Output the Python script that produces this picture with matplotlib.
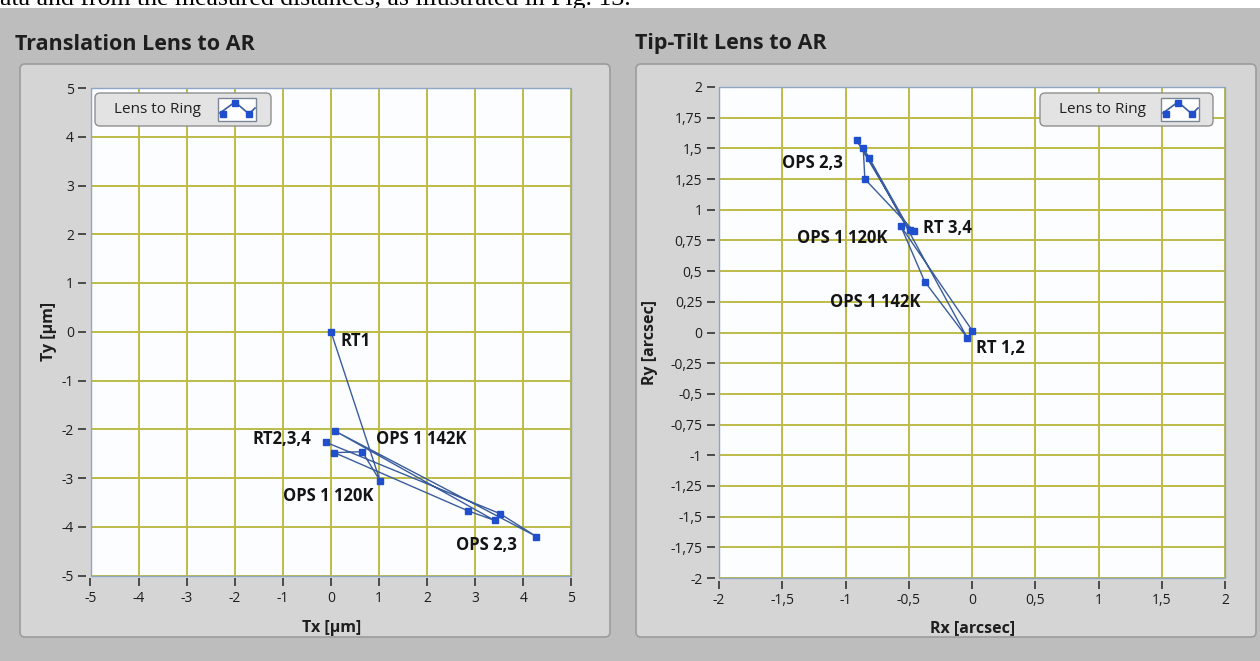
import matplotlib
matplotlib.use("Agg")
import matplotlib.pyplot as plt
from matplotlib.patches import FancyBboxPatch, Rectangle
from matplotlib.lines import Line2D
from matplotlib.ticker import FuncFormatter

# ---- data -----------------------------------------------------------------
# Translation of the lens relative to the ring (µm), in measurement order
tx = [0.00, 1.02, 0.65, 0.07, 2.84, 3.40, 0.09, 4.27, 3.51, -0.10]
ty = [0.00, -3.06, -2.46, -2.48, -3.67, -3.87, -2.04, -4.20, -3.73, -2.27]

# Tip-tilt of the lens relative to the ring (arcsec), same order
rx = [0.003, -0.563, -0.374, -0.036, -0.815, -0.912, -0.492, -0.860, -0.847, -0.460]
ry = [0.014, 0.867, 0.415, -0.046, 1.418, 1.567, 0.835, 1.507, 1.250, 0.827]

trans_labels = ["RT1", "RT2,3,4", "OPS 1 142K", "OPS 1 120K", "OPS 2,3"]
tilt_labels = ["OPS 2,3", "RT 3,4", "OPS 1 120K", "OPS 1 142K", "RT 1,2"]

trans_ticks_x = [-5, -4, -3, -2, -1, 0, 1, 2, 3, 4, 5]
trans_ticks_y = [-5, -4, -3, -2, -1, 0, 1, 2, 3, 4, 5]
tilt_ticks_x = [-2, -1.5, -1, -0.5, 0, 0.5, 1, 1.5, 2]
tilt_ticks_y = [-2, -1.75, -1.5, -1.25, -1, -0.75, -0.5, -0.25, 0,
                0.25, 0.5, 0.75, 1, 1.25, 1.5, 1.75, 2]

legend_text = "Lens to Ring"

# ---- layout / style -------------------------------------------------------
W, H = 1260, 661
DPI = 100
UI_FONT = ["Open Sans", "DejaVu Sans"]

BG_OUTER = "#bdbdbd"
BG_PANEL = "#d5d5d5"
PLOT_BG = "#fcfdff"
GRID = "#bdbb48"
LINE = "#3a5c9c"
MARK = "#1f4fcc"
FRAME = "#8ea6c6"

# text anchors for the point annotations (data coords, alignment)
trans_label_pos = [(0.19, -0.19, "left"), (-0.42, -2.20, "right"),
                   (0.94, -2.20, "left"), (-1.00, -3.37, "left"),
                   (2.60, -4.37, "left")]
tilt_label_pos = [(-1.50, 1.38, "left"), (-0.39, 0.85, "left"),
                  (-1.38, 0.77, "left"), (-1.12, 0.25, "left"),
                  (0.03, -0.13, "left")]

fig = plt.figure(figsize=(W / DPI, H / DPI), dpi=DPI)
fig.patch.set_facecolor("white")
inch = fig.dpi_scale_trans


def px(x, y):
    """Pixel position measured from the top-left corner -> inches."""
    return x / DPI, (H - y) / DPI


def fpx(x, y):
    """Pixel position measured from the top-left corner -> figure fraction."""
    return x / W, (H - y) / H


# caption line of the surrounding document, mostly hidden behind the window
fig.text(*fpx(0, 5), "ata and from the measured distances, as illustrated in Fig. 13.",
         family=["Liberation Serif", "DejaVu Serif"], fontsize=18.5,
         va="baseline", ha="left", zorder=0.5)

# window background
fig.patches.append(Rectangle((0, 0), W / DPI, (H - 8) / DPI, transform=inch,
                             facecolor=BG_OUTER, edgecolor="none", zorder=1))


def panel(x0, y0, x1, y1):
    a, b = px(x0, y1)
    fig.patches.append(FancyBboxPatch(
        (a, b), (x1 - x0) / DPI, (y1 - y0) / DPI,
        boxstyle="round,pad=0,rounding_size=0.05", transform=inch,
        facecolor=BG_PANEL, edgecolor="#9c9c9c", linewidth=1.2, zorder=2))


panel(20, 64, 610, 637)
panel(636, 64, 1256, 637)

fig.text(*fpx(15, 44), "Translation Lens to AR",
         family=UI_FONT, fontsize=15.5, fontweight="bold", color="#1e1e1e",
         va="center", ha="left", zorder=3)
fig.text(*fpx(635, 44), "Tip-Tilt Lens to AR",
         family=UI_FONT, fontsize=15.5, fontweight="bold", color="#1e1e1e",
         va="center", ha="left", zorder=3)


def make_axes(x0, y0, x1, y1):
    ax = fig.add_axes([x0 / W, (H - y1) / H, (x1 - x0) / W, (y1 - y0) / H])
    ax.set_zorder(5)
    ax.set_facecolor(PLOT_BG)
    for s in ax.spines.values():
        s.set_visible(False)
    ax.spines["left"].set_position(("outward", 3))
    ax.spines["bottom"].set_position(("outward", 2))
    ax.add_patch(Rectangle((0, 0), 1, 1, transform=ax.transAxes, fill=False,
                           edgecolor=FRAME, linewidth=1.0, clip_on=False, zorder=6))
    ax.tick_params(direction="out", length=6, width=1.3, color="#404040",
                   labelsize=10, labelcolor="#1e1e1e", pad=3)
    ax.grid(True, color=GRID, linewidth=1.4)
    ax.set_axisbelow(True)
    return ax


def comma_fmt(v, _pos):
    return f"{v:g}".replace(".", ",")


def finish_ticks(ax, xt, yt):
    ax.set_xticks(xt)
    ax.set_yticks(yt)
    ax.xaxis.set_major_formatter(FuncFormatter(comma_fmt))
    ax.yaxis.set_major_formatter(FuncFormatter(comma_fmt))
    for lab in ax.get_xticklabels() + ax.get_yticklabels():
        lab.set_family(UI_FONT)


def draw_series(ax, xs, ys):
    ax.plot(xs, ys, color=LINE, linewidth=1.0, zorder=3)
    ax.plot(xs, ys, linestyle="none", marker="s", markersize=4.5,
            markerfacecolor=MARK, markeredgecolor=MARK, zorder=4)


def label_points(ax, texts, anchors):
    for t, (x, y, ha) in zip(texts, anchors):
        ax.text(x, y, t, ha=ha, va="center", family=UI_FONT, fontsize=12,
                fontweight="bold", color="#141414", zorder=5)


def axis_titles(ax, xl, yl, xc, yc):
    kw = dict(family=UI_FONT, fontsize=11.5, fontweight="bold", color="#1e1e1e")
    ax.set_xlabel(xl, **kw)
    ax.set_ylabel(yl, **kw)
    ax.xaxis.set_label_coords(*xc)
    ax.yaxis.set_label_coords(*yc)


def legend_button(x0, y0, x1, y1, icon_x0):
    a, b = px(x0, y1)
    fig.patches.append(FancyBboxPatch(
        (a, b), (x1 - x0) / DPI, (y1 - y0) / DPI,
        boxstyle="round,pad=0,rounding_size=0.05", transform=inch,
        facecolor="#e3e3e3", edgecolor="#8f8f8f", linewidth=1.0, zorder=10))
    fig.text(*fpx(x0 + 19, (y0 + y1) / 2), legend_text, family=UI_FONT,
             fontsize=11, color="#202020", va="center", ha="left", zorder=11)
    ia, ib = px(icon_x0, y1 - 5)
    fig.patches.append(Rectangle((ia, ib), 38 / DPI, (y1 - y0 - 10) / DPI,
                                 transform=inch, facecolor="white",
                                 edgecolor="#7b8796", linewidth=1.0, zorder=11))
    # miniature of the plotted line style
    pts = [(icon_x0 + 2, y1 - 13), (icon_x0 + 17, y1 - 24),
           (icon_x0 + 31, y1 - 12), (icon_x0 + 37, y1 - 18)]
    xs = [px(p[0], p[1])[0] for p in pts]
    ys = [px(p[0], p[1])[1] for p in pts]
    fig.lines.append(Line2D(xs, ys, transform=inch, color=LINE, linewidth=1.2, zorder=12))
    mk = [px(icon_x0 + 5, y1 - 12), px(icon_x0 + 17, y1 - 23), px(icon_x0 + 31, y1 - 12)]
    fig.lines.append(Line2D([m[0] for m in mk], [m[1] for m in mk], transform=inch,
                            linestyle="none", marker="s", markersize=4.5,
                            color=MARK, zorder=13))


# ---- translation panel ----------------------------------------------------
ax1 = make_axes(90.5, 88, 571.5, 575.5)
ax1.set_xlim(-5, 5)
ax1.set_ylim(-5, 5)
finish_ticks(ax1, trans_ticks_x, trans_ticks_y)
draw_series(ax1, tx, ty)
label_points(ax1, trans_labels, trans_label_pos)
axis_titles(ax1, "Tx [µm]", "Ty [µm]", (0.501, -0.091), (-0.07, 0.50))

# ---- tip-tilt panel -------------------------------------------------------
ax2 = make_axes(719, 87, 1225, 578)
ax2.set_xlim(-2, 2)
ax2.set_ylim(-2, 2)
finish_ticks(ax2, tilt_ticks_x, tilt_ticks_y)
draw_series(ax2, rx, ry)
label_points(ax2, tilt_labels, tilt_label_pos)
axis_titles(ax2, "Rx [arcsec]", "Ry [arcsec]", (0.502, -0.086), (-0.12, 0.48))

legend_button(95, 93, 271, 126, 218)
legend_button(1040, 93, 1213, 126, 1161)

fig.savefig("out.png", dpi=DPI)
